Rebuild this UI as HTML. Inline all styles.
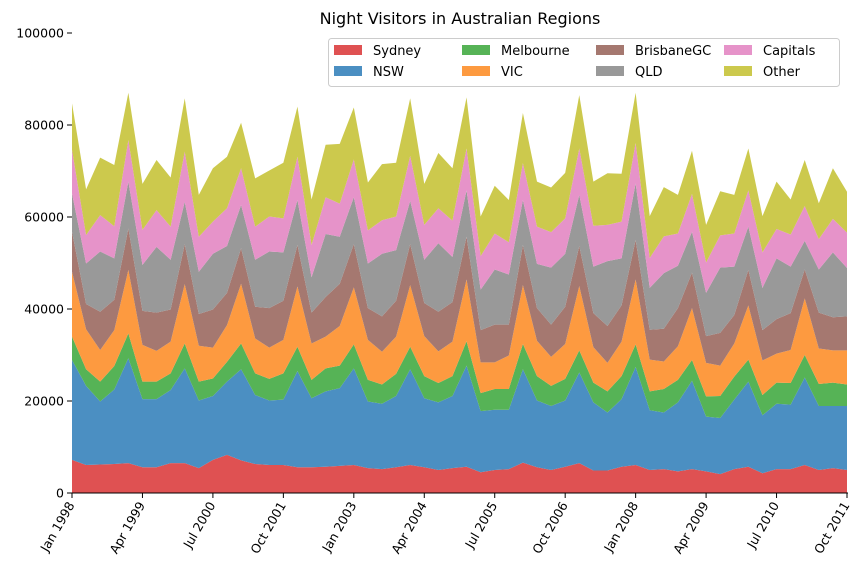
<!DOCTYPE html>
<html><head><meta charset="utf-8"><style>
body{margin:0;background:#fff;font-family:"Liberation Sans","DejaVu Sans",sans-serif;}
svg text{font-family:"DejaVu Sans","Liberation Sans",sans-serif;}
</style></head><body>
<svg id="chart" width="857" height="576" xmlns="http://www.w3.org/2000/svg">
<text x="460" y="24" text-anchor="middle" font-size="16" fill="#000">Night Visitors in Australian Regions</text>
<g id="areas"></g>
<g id="axes"></g>
<g id="legend"></g>
</svg>
<script>
// values in thousands of visitors
const seriesNames = ["Sydney","NSW","Melbourne","VIC","BrisbaneGC","QLD","Capitals","Other"];
const seriesColors = ["#df5152","#4b8fc2","#56b356","#fd9a40","#a57870","#999999","#e693c9","#ccc94d"];
const sydney = [7.2,6.1,6.2,6.3,6.5,5.6,5.6,6.5,6.5,5.4,7.2,8.3,7.1,6.3,6.1,6.1,5.6,5.6,5.7,5.9,6.1,5.4,5.2,5.6,6.1,5.6,5.0,5.4,5.7,4.5,5.0,5.2,6.6,5.6,5.0,5.7,6.5,4.9,4.9,5.7,6.1,5.0,5.2,4.7,5.2,4.7,4.1,5.2,5.7,4.3,5.2,5.2,6.1,5.0,5.4,5.0];
const nsw = [21.7,17.2,13.7,16.2,22.8,14.8,14.8,15.9,20.6,14.7,13.9,15.9,19.8,15.0,14.0,14.2,20.9,15.0,16.4,16.9,21.0,14.5,14.2,15.5,20.8,15.0,14.7,15.7,22.0,13.3,13.1,12.9,20.3,14.5,13.9,14.4,19.7,14.8,12.6,14.7,21.3,13.0,12.3,15.0,19.2,11.9,12.2,15.1,18.5,12.6,14.2,14.0,19.0,13.9,13.5,13.9];
const melbourne = [5.1,3.6,4.3,5.1,5.4,3.8,3.8,3.6,5.4,4.1,3.8,4.3,5.6,4.7,4.7,5.7,5.3,4.0,5.0,4.9,5.2,4.7,4.2,4.8,4.9,4.8,4.2,4.3,5.3,3.9,4.5,4.5,5.5,5.3,4.4,4.7,4.8,4.3,4.6,5.0,4.9,4.1,5.1,4.9,4.5,4.4,4.8,5.0,4.8,4.4,4.6,4.7,4.9,4.8,5.1,4.7];
const vic = [14.1,8.7,6.9,7.8,13.8,8.0,6.7,6.9,12.9,7.8,6.7,8.0,13.0,7.6,6.8,7.3,13.1,7.9,6.9,8.6,12.4,8.7,7.1,8.1,13.4,8.7,6.9,7.5,13.4,6.7,5.8,7.3,12.8,7.7,6.3,7.6,14.0,7.7,6.2,7.5,14.1,6.9,6.0,7.3,11.3,7.3,6.6,7.2,11.8,7.5,6.3,7.2,12.3,7.7,7.0,7.4];
const brisbaneGC = [8.7,5.5,8.3,6.6,9.0,7.4,8.3,7.0,8.7,6.9,8.3,7.0,7.7,6.9,8.6,8.5,9.0,6.7,8.6,9.2,9.4,6.9,7.7,7.8,8.9,7.2,8.6,8.6,9.3,7.0,8.2,6.7,8.7,7.1,7.0,8.1,8.7,7.4,8.0,7.9,8.6,6.5,7.1,8.3,7.7,5.8,7.1,6.2,7.7,6.6,7.5,8.0,6.3,7.8,7.2,7.4];
const qld = [8.3,8.8,13.1,9.0,10.2,10.0,14.3,10.8,9.2,9.2,12.1,10.2,9.4,10.2,12.3,10.5,9.8,7.7,13.7,10.2,10.2,9.7,13.6,11.0,9.4,9.4,14.9,9.8,10.1,8.8,12.0,10.9,9.8,9.6,12.4,11.5,11.1,10.1,14.1,10.2,12.3,9.1,12.1,9.2,8.9,9.4,14.2,10.5,9.4,9.2,13.2,10.1,6.2,9.4,14.1,10.5];
const capitals = [9.5,6.2,7.9,7.0,9.0,7.6,8.0,7.2,10.9,7.6,7.0,8.2,8.0,7.2,7.6,7.4,9.4,7.0,8.0,7.2,8.2,7.2,7.3,7.3,9.8,7.6,7.6,7.9,9.1,7.3,7.8,7.0,8.0,8.1,7.7,7.7,10.1,8.9,7.9,8.0,8.8,6.5,8.0,7.0,8.2,6.6,7.0,7.2,7.9,7.7,6.4,7.0,7.6,6.6,7.3,7.7];
const other = [10.1,9.9,12.5,13.3,10.3,10.0,10.9,10.7,11.6,9.1,11.6,11.2,9.9,10.5,10.0,12.1,10.9,9.9,11.4,13.0,11.3,10.4,12.2,11.7,12.5,8.9,12.0,11.4,11.1,8.6,10.4,9.2,10.9,9.8,9.7,9.9,11.6,9.6,11.2,10.4,10.9,9.1,10.7,8.4,9.4,8.2,9.6,8.4,9.1,7.9,10.3,7.6,10.0,7.8,11.0,8.9];
const seriesValues = [sydney,nsw,melbourne,vic,brisbaneGC,qld,capitals,other];
const yTickValues = [0,20,40,60,80,100];
const yTickLabels = ["0","20000","40000","60000","80000","100000"];
const xTickIndices = [0,5,10,15,20,25,30,35,40,45,50,55];
const xTickLabels = ["Jan 1998","Apr 1999","Jul 2000","Oct 2001","Jan 2003","Apr 2004","Jul 2005","Oct 2006","Jan 2008","Apr 2009","Jul 2010","Oct 2011"];

const NS="http://www.w3.org/2000/svg";
const X0=72,X1=847,Y0=493,Y1=33;
const n=sydney.length;
function xs(i){return X0+(X1-X0)*i/(n-1);}
function ys(v){return Y0-(Y0-Y1)*v/100;}
function mk(tag,attrs,parent){const e=document.createElementNS(NS,tag);for(const k in attrs)e.setAttribute(k,attrs[k]);parent.appendChild(e);return e;}

const areas=document.getElementById('areas');
let base=new Array(n).fill(0);
seriesValues.forEach((s,k)=>{
  const top=base.map((b,i)=>b+s[i]);
  let d="M"+xs(0)+","+ys(top[0]);
  for(let i=1;i<n;i++)d+=" L"+xs(i)+","+ys(top[i]);
  for(let i=n-1;i>=0;i--)d+=" L"+xs(i)+","+ys(base[i]);
  d+=" Z";
  const p=mk('path',{d:d,fill:seriesColors[k]},areas);
  
  
  base=top;
});

const axes=document.getElementById('axes');
const bl=mk('line',{x1:X0,x2:X1+1,y1:Y0,y2:Y0,stroke:'#000','stroke-width':1},axes);


yTickValues.forEach((v,j)=>{
  const y=ys(v);
  const t=mk('line',{x1:X0-5,x2:X0,y1:y,y2:y,stroke:'#000'},axes);
  
  
  const l=mk('text',{x:X0-8,y:y+4.5,'text-anchor':'end','font-size':12.5,fill:'#000'},axes);
  l.textContent=yTickLabels[j];
  
  
});
xTickIndices.forEach((idx,j)=>{
  const x=xs(idx);
  const t=mk('line',{x1:x,x2:x,y1:Y0,y2:Y0+5,stroke:'#000'},axes);
  
  
  const l=mk('text',{x:x+3,y:Y0+12,'text-anchor':'end','font-size':12.5,fill:'#000',transform:'rotate(-60 '+(x+3)+' '+(Y0+12)+')'},axes);
  l.textContent=xTickLabels[j];
  
  
});

const lg=document.getElementById('legend');
const box=mk('rect',{x:328.5,y:38.5,width:511,height:48,rx:3,fill:'#fff','fill-opacity':0.8,stroke:'#ccc'},lg);


const colX=[334,462,596,724];
seriesNames.forEach((nm,k)=>{
  const c=Math.floor(k/2),r=k%2;
  const x=colX[c],y=45+r*21;
  const sw=mk('rect',{x:x,y:y,width:28,height:10,fill:seriesColors[k]},lg);
  
  
  const t=mk('text',{x:x+39,y:y+10,'font-size':13,fill:'#000'},lg);
  t.textContent=nm;
  
  
});
</script>
</body></html>
